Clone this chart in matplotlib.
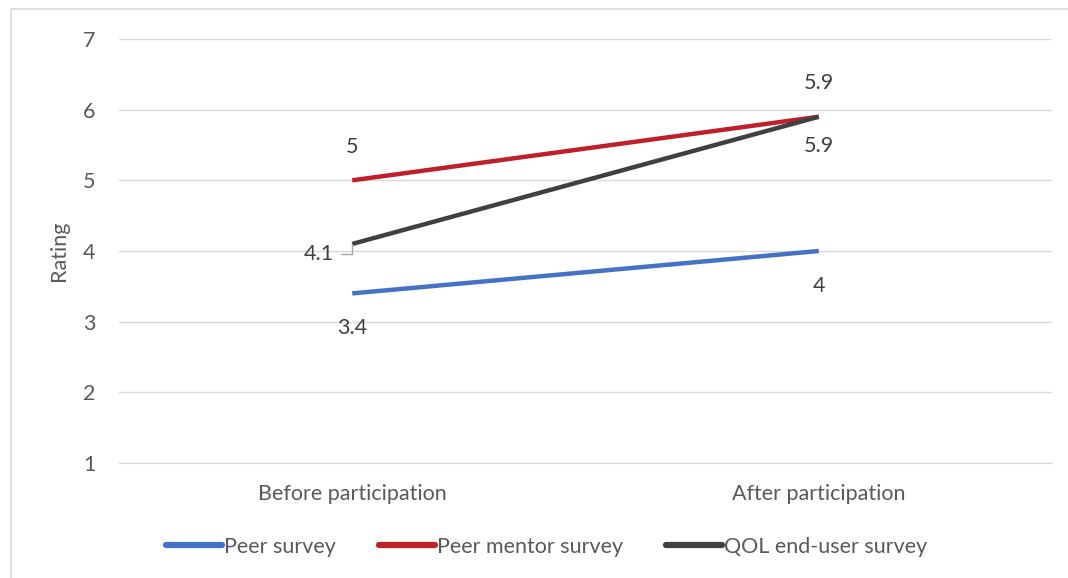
import matplotlib.pyplot as plt

# ratings before / after taking part
stages = ["Before participation", "After participation"]
peer = [3.4, 4.0]
mentor = [5.0, 5.9]
qol = [4.1, 5.9]
series_names = ["Peer survey", "Peer mentor survey", "QOL end-user survey"]

plt.rcParams['font.family'] = ['Lato', 'DejaVu Sans']
txt = '#595959'
grid_c = '#d9d9d9'
fs = 15.5

fig = plt.figure(figsize=(10.68, 5.78), dpi=100)
# thin outer frame of the chart object
fig.patches.append(plt.Rectangle((11/1068, -0.1), 1.2, 1 - 9/578 + 0.1,
                                 transform=fig.transFigure, fill=False,
                                 edgecolor='#d9d9d9', lw=1.2))
ax = fig.add_axes([119/1068, 1 - 463/578, (1052 - 119)/1068, (463 - 39)/578])

x = [0, 1]
ax.plot(x, peer, color='#4472C4', lw=3.2, label=series_names[0], solid_capstyle='butt')
ax.plot(x, mentor, color='#C0202A', lw=3.2, label=series_names[1], solid_capstyle='butt')
ax.plot(x, qol, color='#404040', lw=3.2, label=series_names[2], solid_capstyle='butt')

ax.set_xlim(-0.5, 1.5)
ax.set_ylim(1, 7)
ax.set_yticks(range(1, 8))
ax.set_xticks(x)
ax.set_xticklabels(stages)
ax.grid(axis='y', color=grid_c, lw=1)
ax.set_axisbelow(True)
for s in ['top', 'right', 'left']:
    ax.spines[s].set_visible(False)
ax.spines['bottom'].set_color(grid_c)
ax.tick_params(axis='both', length=0, labelsize=fs, colors=txt)
ax.tick_params(axis='y', pad=17)
ax.tick_params(axis='x', pad=15)
ax.set_ylabel("Rating", fontsize=fs, color=txt, labelpad=10)

lab = dict(fontsize=fs, color='#404040', ha='center', va='center')
ax.annotate(f"{peer[0]:g}", (x[0], peer[0]), xytext=(0, -25), textcoords='offset points', **lab)
ax.annotate(f"{peer[1]:g}", (x[1], peer[1]), xytext=(0, -25), textcoords='offset points', **lab)
ax.annotate(f"{mentor[0]:g}", (x[0], mentor[0]), xytext=(0, 24), textcoords='offset points', **lab)
ax.annotate(f"{mentor[1]:g}", (x[1], mentor[1]), xytext=(0, 24), textcoords='offset points', **lab)
ax.annotate(f"{qol[1]:g}", (x[1], qol[1]), xytext=(0, -21), textcoords='offset points', **lab)
ax.annotate(f"{qol[0]:g}", (x[0], qol[0]), xytext=(-13, -7), textcoords='offset points',
            arrowprops=dict(arrowstyle='-', color='#a6a6a6', lw=1,
                            connectionstyle='angle,angleA=0,angleB=90,rad=0',
                            shrinkA=3, shrinkB=0, relpos=(1, 0.5)),
            fontsize=fs, color='#404040', ha='right', va='center')

leg = fig.legend(loc='center', bbox_to_anchor=(0.512, 1 - 547/578), ncol=3, frameon=False,
                 fontsize=fs, handlelength=2.6, handletextpad=0.1, columnspacing=2.0,
                 labelcolor=txt)
for h in leg.get_lines():
    h.set_linewidth(4.5)
    h.set_solid_capstyle('round')

fig.savefig("out.png", dpi=100)
